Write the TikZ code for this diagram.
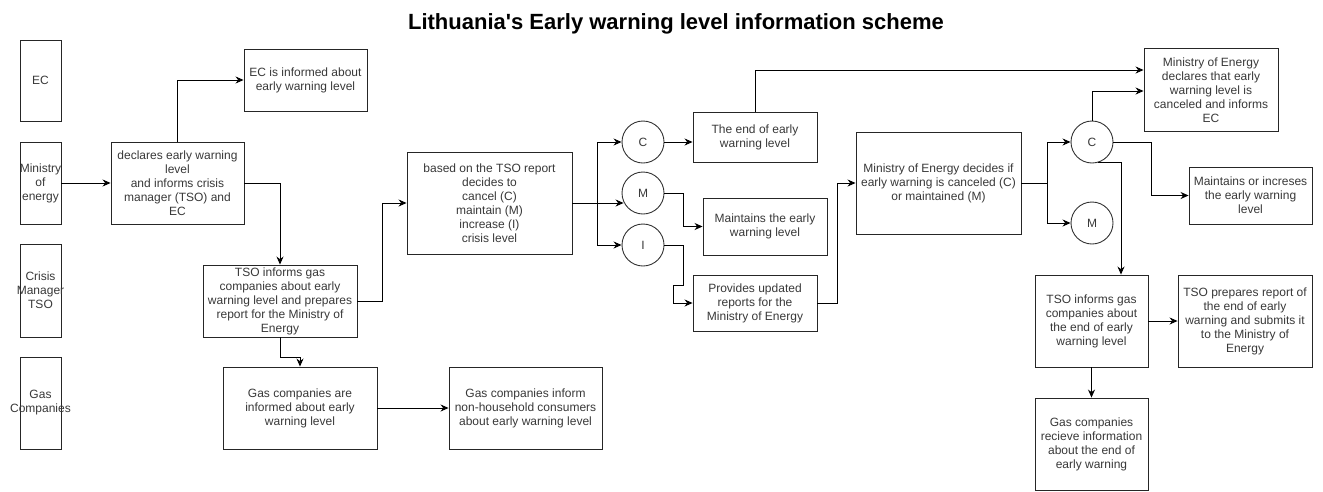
\documentclass[tikz,border=0pt]{standalone}
\usepackage{fontspec}
\setmainfont{Liberation Sans}
\usetikzlibrary{arrows.meta,calc}
\begin{document}
\begin{tikzpicture}[x=1pt,y=-1pt,
  box/.style={draw=black!85, line width=0.9pt, align=center, inner sep=0pt, font=\fontsize{12}{14}\selectfont, text=black!78},
  lane/.style={box, minimum width=41pt},
  circ/.style={circle, draw=black!80, line width=0.9pt, minimum size=42pt, inner sep=0pt, font=\fontsize{12}{14}\selectfont, text=black!78},
  arr/.style={-{Stealth[length=8pt,width=7pt]}, line width=0.9pt},
  ln/.style={line width=0.9pt}]
\useasboundingbox (0,0) rectangle (1323,491);

\node[font=\bfseries\fontsize{22}{26}\selectfont, anchor=base] (title) at (676,29) {Lithuania\textquotesingle s Early warning level information scheme};

% lanes
\node[lane, minimum height=81pt] (ec) at (40.5,80.5) {EC};
\node[lane, minimum height=82pt] (moe) at (40.5,183) {\makebox[0pt]{Ministry}\\\makebox[0pt]{of}\\\makebox[0pt]{energy}};
\node[lane, minimum height=93pt] (cm) at (40.5,290.5) {\makebox[0pt]{Crisis}\\\makebox[0pt]{Manager}\\\makebox[0pt]{TSO}};
\node[lane, minimum height=92pt] (gc) at (40.5,403) {\makebox[0pt]{Gas}\\\makebox[0pt]{Companies}};

% boxes
\node[box, minimum width=133pt, minimum height=82pt] (decl) at (177.5,183) {declares early warning\\level\\and informs crisis\\manager (TSO) and\\EC};
\node[box, minimum width=123pt, minimum height=62pt] (ecinf) at (305.5,80) {EC is informed about\\early warning level};
\node[box, minimum width=154pt, minimum height=72pt] (tso) at (280,301) {TSO informs gas\\companies about early\\warning level and prepares\\report for the Ministry of\\Energy};
\node[box, minimum width=154pt, minimum height=82pt] (gas) at (300,408) {Gas companies are\\informed about early\\warning level};
\node[box, minimum width=153pt, minimum height=82pt] (nonh) at (525.5,408) {Gas companies inform\\non-household consumers\\about early warning level};
\node[box, minimum width=165pt, minimum height=102pt] (based) at (489.5,203) {based on the TSO report\\decides to\\cancel (C)\\maintain (M)\\increase (I)\\crisis level};
\node[circ] (c1) at (643,142) {C};
\node[circ] (m1) at (643,193) {M};
\node[circ] (i1) at (643,245) {I};
\node[box, minimum width=124pt, minimum height=50pt] (endb) at (755,137) {The end of early\\warning level};
\node[box, minimum width=124pt, minimum height=57pt] (maint) at (765,226.5) {Maintains the early\\warning level};
\node[box, minimum width=124pt, minimum height=56pt] (prov) at (755,303) {Provides updated\\reports for the\\Ministry of Energy};
\node[box, minimum width=165pt, minimum height=102pt] (dec) at (938.5,183) {Ministry of Energy decides if\\early warning is canceled (C)\\or maintained (M)};
\node[circ] (c2) at (1092,142) {C};
\node[circ] (m2) at (1092,223) {M};
\node[box, minimum width=134pt, minimum height=83pt] (minend) at (1211,90) {Ministry of Energy\\declares that early\\warning level is\\canceled and informs\\EC};
\node[box, minimum width=123pt, minimum height=57pt] (maint2) at (1250.5,195.5) {Maintains or increses\\the early warning\\level};
\node[box, minimum width=113pt, minimum height=92pt] (tso2) at (1091.5,321) {TSO informs gas\\companies about\\the end of early\\warning level};
\node[box, minimum width=134pt, minimum height=92pt] (prep) at (1245,321) {TSO prepares report of\\the end of early\\warning and submits it\\to the Ministry of\\Energy};
\node[box, minimum width=113pt, minimum height=92pt] (recv) at (1091.5,444) {Gas companies\\recieve information\\about the end of\\early warning};

% connectors
\draw[arr] (moe.east) -- (decl.west);
\draw[arr] (decl.north) |- (ecinf.west);
\draw[arr] (decl.east) -| (tso.north);
\draw[arr] (tso.east) -- ++(25,0) |- (based.west);
\draw[arr] (tso.south) -- ++(0,20) -| (gas.north);
\draw[arr] (gas.east) -- (nonh.west);
\coordinate (j1) at ($(based.east)+(25,0)$);
\draw[arr] (based.east) -- (based.east -| m1.205);
\draw[arr] (j1) |- (c1.west);
\draw[arr] (j1) |- (i1.west);
\draw[arr] (c1.east) -- (c1.east -| endb.west);
\draw[arr] (endb.north) |- ($(minend.west)+(0,-20)$);
\draw[arr] (m1.east) -- ++(19,0) |- (maint.west);
\draw[arr] (i1.east) -- ++(19,0) -- ++(0,40) -- ++(-10,0) |- (prov.west);
\draw[arr] (prov.east) -- ++(20,0) |- (dec.west);
\coordinate (j2) at ($(dec.east)+(26,0)$);
\draw[ln] (dec.east) -- (j2);
\draw[arr] (j2) |- (c2.west);
\draw[arr] (j2) |- (m2.west);
\draw[arr] (c2.north) |- ($(minend.west)+(0,1)$);
\draw[arr] (c2.east) -- ++(38,0) |- (maint2.west);
\draw[arr] (c2.285) -| ($(tso2.north)+(29.5,0)$);
\draw[arr] (tso2.east) -- (prep.west);
\draw[arr] (tso2.south) -- (recv.north);
\end{tikzpicture}
\end{document}
